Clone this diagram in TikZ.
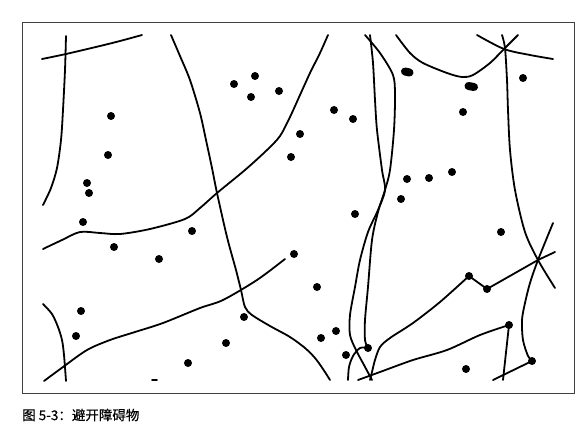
\documentclass[tikz,border=0pt]{standalone}
\usepackage{fontspec}
\newfontfamily\cjk{Noto Sans CJK SC}[FakeBold=0.4]
\tikzset{
  curve/.style={line width=1.8pt, line cap=round, line join=round},
  dot/.style={circle, fill=black, inner sep=0pt, minimum size=8pt},
  blob/.style={line width=8pt, line cap=round},
  frame/.style={line width=0.9pt, draw=black!75},
}
\begin{document}
\begin{tikzpicture}[x=1pt,y=-1pt]
\useasboundingbox (0,0) rectangle (582,432);
\draw[frame] (22,22) rectangle (574,393);

% dots
\foreach \n/\p in {d1/{(111,116)},d2/{(234,84)},d3/{(255,76)},d4/{(251,97)},d5/{(279,91)},
  d6/{(334,110)},d7/{(353,119)},d8/{(300,134)},d9/{(291,157)},d10/{(108,155)},
  d11/{(87,183)},d12/{(89,193)},d13/{(83,222)},d14/{(114,247)},d15/{(159,259)},
  d16/{(192,231)},d17/{(355,214)},d18/{(294,254)},d19/{(317,287)},d20/{(407,179)},
  d21/{(429,178)},d22/{(452,172)},d23/{(401,199)},d24/{(463,112)},d25/{(523,78)},
  d26/{(501,232)},d27/{(469,276)},d28/{(487,289)},d29/{(81,311)},d30/{(76,336)},
  d31/{(188,363)},d32/{(244,317)},d33/{(226,343)},d34/{(321,338)},d35/{(336,331)},
  d36/{(346,355)},d37/{(368,348)},d38/{(509,325)},d39/{(466,369)},d40/{(532,361)}}
  {\node[dot] (\n) at \p {};}
\draw[blob] (405,71.5) -- (409.5,72.5);
\draw[blob] (468.5,86) -- (474,87);

% free ends
\coordinate (star) at (538,260);
\coordinate (e1) at (555,252);
\coordinate (e2) at (503,380);
\coordinate (e3) at (493,380);

% curves
\draw[curve] plot[smooth] coordinates {(42,59) (66,54) (100,46) (120,41) (142,35)};
\draw[curve] plot[smooth] coordinates {(66,36) (65,70) (63,110) (61,140) (57,168) (51,188) (43,205)};
\draw[curve] plot[smooth] coordinates {(43,249) (62,240) (80,232) (100,233) (120,234) (150,229) (185,219) (200,208) (217,193) (245,170) (267,150) (280,136) (290,117) (300,95) (310,73) (320,53) (328,35)};
\draw[curve] plot[smooth] coordinates {(171,35) (180,56) (190,80) (200,113) (206,140) (212,168) (217,193) (227,237) (236,270) (241,290) (245,307) (252,315) (270,326) (290,337) (305,348) (315,358) (323,369) (330,380)};
\draw[curve] plot[smooth] coordinates {(44,381) (63,367) (87,350) (110,340) (135,332) (163,323) (200,308) (223,300) (257,280) (285,259)};
\draw[curve] plot[smooth] coordinates {(43,304) (52,314) (58,327) (62,340) (64,355) (66,381)};
\draw[curve] (152,380) -- (157,380);

\draw[curve] plot[smooth] coordinates {(370,35) (373,63) (375,100) (377,130) (382,170) (385,190) (378,210) (368,232) (360,260) (355,287) (350,315) (350,335) (356,350) (364,365) (372,380)};
\draw[curve] plot[smooth] coordinates {(365,35) (380,53) (393,75) (395,95) (394,130) (390,170) (385,190) (378,212) (372,240) (368,287) (365,320) (365,340) (d37.center)};
\draw[curve] plot[smooth] coordinates {(d37.center) (360,348) (353,356) (349,367) (348,380)};

\draw[curve] plot[smooth] coordinates {(396,35) (410,53) (423,63) (447,73) (462,77) (473,75) (490,63) (504,49) (518,35)};
\draw[curve] plot[smooth] coordinates {(477,35) (504,49) (530,55) (553,59)};
\draw[curve] plot[smooth] coordinates {(502,35) (505,48) (507,80) (508,110) (510,150) (515,190) (525,232) (star) (555,288)};
\draw[curve] plot[smooth] coordinates {(553,223) (star) (530,283) (525,303) (522,320) (523,340) (528,356) (d40.center)};
\draw[curve] (d40.center) -- (e3);

\draw[curve] plot[smooth] coordinates {(370,380) (372,372) (375,360) (380,347) (390,338) (413,323) (440,302) (d27.center)};
\draw[curve] (d27.center) -- (d28.center) -- (star) -- (e1);
\draw[curve] plot[smooth] coordinates {(358,380) (380,372) (413,360) (447,350) (480,335) (d38.center)};
\draw[curve] (d38.center) -- (e2);

\node[anchor=west, inner sep=0pt, font=\cjk\fontsize{13.5}{15}\selectfont] (cap) at (22,415) {图 5-3：避开障碍物};
\end{tikzpicture}
\end{document}
